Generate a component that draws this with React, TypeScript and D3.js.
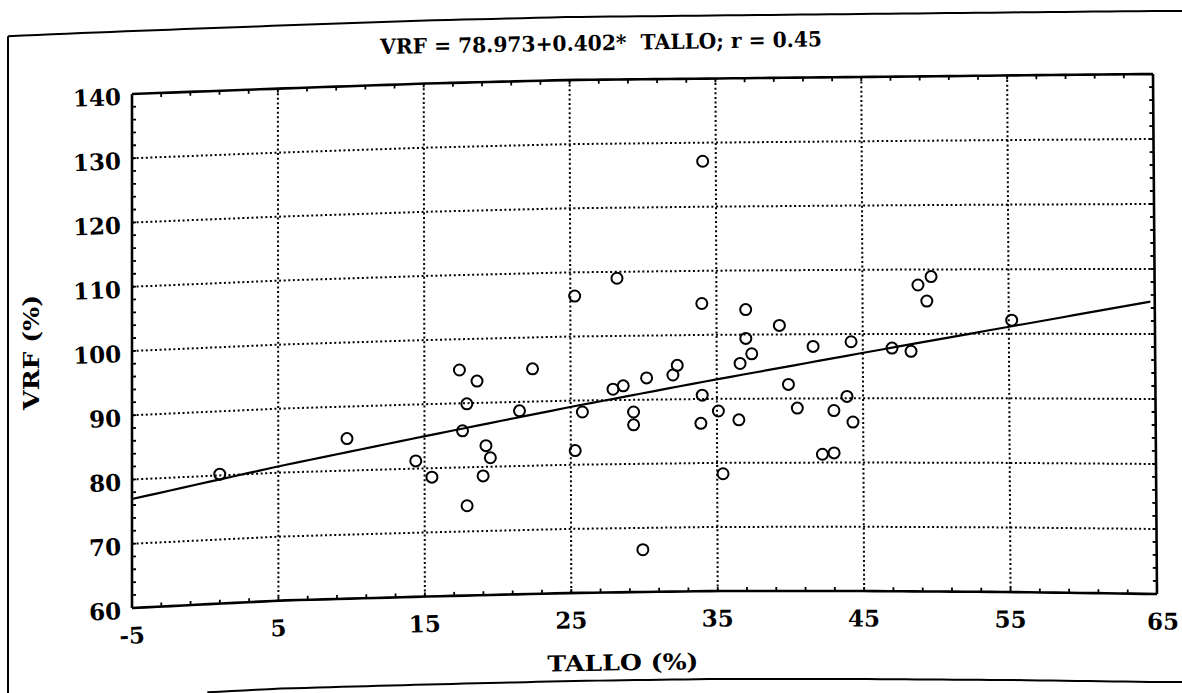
import React from 'react';
import * as d3 from 'd3';

// ---- data ----
const tallo = [1.0, 9.7, 14.4, 15.5, 17.4, 18.6, 17.9, 17.6, 19.2, 19.5, 19.0, 17.9, 21.5, 22.4,
  34.1, 28.2, 25.3, 34.0, 37.0, 39.3, 37.0, 41.6, 44.2, 47.0, 37.4, 36.6, 32.3, 32.0, 30.2, 28.6,
  27.9, 25.8, 25.3, 29.3, 29.3, 34.0, 33.9, 35.1, 36.5, 35.4, 39.9, 40.5, 43.9, 43.0, 44.3, 42.2,
  43.0, 48.8, 49.7, 49.4, 48.3, 55.2, 29.9];
const vrf = [80.2, 85.0, 81.2, 78.6, 95.2, 93.4, 89.9, 85.7, 83.3, 81.4, 78.6, 74.0, 88.6, 95.1,
  127.1, 109.0, 106.3, 104.9, 103.9, 101.4, 99.4, 98.1, 98.8, 97.8, 97.0, 95.5, 95.3, 93.8, 93.4, 92.2,
  91.7, 88.2, 82.2, 88.1, 86.1, 90.6, 86.2, 88.1, 86.7, 78.3, 92.2, 88.5, 90.3, 88.1, 86.3, 81.3,
  81.5, 107.6, 108.9, 105.1, 97.3, 102.1, 66.6];
const xTicks = [-5, 5, 15, 25, 35, 45, 55, 65];
const yTicks = [60, 70, 80, 90, 100, 110, 120, 130, 140];
const intercept = 78.973;
const slope = 0.402;
const fitRange = [-5, 64.7];
const titleText = 'VRF = 78.973+0.402*  TALLO; r = 0.45';
const xLabel = 'TALLO (%)';
const yLabel = 'VRF (%)';

// ---- layout ----
const W = 1182, H = 693;
const PL = 132, PR = 1153, PT = 94, PB = 608;
const x = d3.scaleLinear().domain([-5, 65]).range([PL, PR]);
const y = d3.scaleLinear().domain([60, 140]).range([PB, PT]);

// paper warp of the scanned page (vertical offsets along x)
const warpXs = [0, 132, 282, 427, 570, 714, 859, 1005, 1153, 1182];
const offTop = d3.scaleLinear().domain(warpXs).range([5.5, 0, -5.5, -10.5, -14, -15.5, -17, -18.5, -20, -20]).clamp(true);
const offBot = d3.scaleLinear().domain(warpXs).range([6, 0, -7.5, -11.5, -15, -17, -17, -16, -14, -14]).clamp(true);

function warp(px: number, py: number): [number, number] {
  const t = Math.max(0, Math.min(1, (py - PT) / (PB - PT)));
  const u = Math.max(0, Math.min(1, (px - PL) / (PR - PL)));
  return [px + 4 * u * t, py + offTop(px) * (1 - t) + offBot(px) * t];
}

function warpedPath(x0: number, y0: number, x1: number, y1: number, n = 80): string {
  const pts: [number, number][] = [];
  for (let i = 0; i <= n; i++) {
    const f = i / n;
    pts.push(warp(x0 + (x1 - x0) * f, y0 + (y1 - y0) * f));
  }
  return d3.line()(pts) || '';
}

function angleAt(px: number, py: number, half = 60): number {
  const a = warp(px - half, py);
  const b = warp(px + half, py);
  return (Math.atan2(b[1] - a[1], b[0] - a[0]) * 180) / Math.PI;
}

const FONT = '"DejaVu Serif", "Liberation Serif", serif';

function WText(props: { px: number; py: number; anchor?: string; size: number; children: string; rot?: number; len?: number; half?: number }) {
  const [wx, wy] = warp(props.px, props.py);
  const ang = (props.rot || 0) + (props.rot ? 0 : angleAt(props.px, props.py, props.half || 40));
  return (
    <text
      transform={`translate(${wx},${wy}) rotate(${ang})`}
      textAnchor={props.anchor || 'middle'}
      dominantBaseline="central"
      fontFamily={FONT}
      fontWeight="bold"
      fontSize={props.size}
      fill="#000"
      textLength={props.len}
      lengthAdjust={props.len ? 'spacingAndGlyphs' : undefined}
      style={{ whiteSpace: 'pre' }}
    >
      {props.children}
    </text>
  );
}

export default function App() {
  const xMinor = d3.range(-5, 65.01, 2);
  const yMinor = d3.range(60, 140.01, 2);
  const fitPts: [number, number] = [x(fitRange[0]), x(fitRange[1])];
  return (
    <svg width={W} height={H} style={{ position: 'absolute', left: 0, top: 0, background: '#fff' }}>
      <rect x={0} y={0} width={W} height={H} fill="#fff" />
      {/* outer frame */}
      <path d={warpedPath(8, 31, W, 31)} stroke="#000" strokeWidth={2} fill="none" />
      <path d={warpedPath(8, 31, 8, 720, 10)} stroke="#000" strokeWidth={2} fill="none" />
      <path d={warpedPath(207, 696, W, 696)} stroke="#000" strokeWidth={2} fill="none" />

      {/* title */}
      <WText px={601} py={57} size={21} half={220} len={442}>{titleText}</WText>

      {/* gridlines */}
      {xTicks.slice(1, -1).map((v) => (
        <path key={'gx' + v} d={warpedPath(x(v), PT, x(v), PB, 20)} stroke="#000" strokeWidth={2} strokeDasharray="2 2.6" fill="none" />
      ))}
      {yTicks.slice(1, -1).map((v) => (
        <path key={'gy' + v} d={warpedPath(PL, y(v), PR, y(v))} stroke="#000" strokeWidth={2} strokeDasharray="2 2.6" fill="none" />
      ))}

      {/* minor ticks */}
      {xMinor.map((v) => (
        <g key={'tx' + v}>
          <path d={warpedPath(x(v), PT, x(v), PT + 4, 1)} stroke="#000" strokeWidth={1.8} />
          <path d={warpedPath(x(v), PB, x(v), PB - 4, 1)} stroke="#000" strokeWidth={1.8} />
        </g>
      ))}
      {yMinor.map((v) => (
        <g key={'ty' + v}>
          <path d={warpedPath(PL, y(v), PL + 4, y(v), 1)} stroke="#000" strokeWidth={1.8} />
          <path d={warpedPath(PR, y(v), PR - 4, y(v), 1)} stroke="#000" strokeWidth={1.8} />
        </g>
      ))}

      {/* plot border */}
      <path
        d={
          warpedPath(PL, PT, PR, PT) + warpedPath(PR, PT, PR, PB, 20) + warpedPath(PR, PB, PL, PB) + warpedPath(PL, PB, PL, PT, 20)
        }
        stroke="#000"
        strokeWidth={2.6}
        fill="none"
        strokeLinejoin="miter"
      />

      {/* regression line */}
      <path
        d={warpedPath(fitPts[0], y(intercept + slope * fitRange[0]), fitPts[1], y(intercept + slope * fitRange[1]))}
        stroke="#000"
        strokeWidth={2.2}
        fill="none"
      />

      {/* points */}
      {tallo.map((tv, i) => {
        const [cx, cy] = warp(x(tv), y(vrf[i]));
        return <circle key={'p' + i} cx={cx} cy={cy} r={5.5} fill="none" stroke="#000" strokeWidth={2} />;
      })}

      {/* y tick labels */}
      {yTicks.map((v) => (
        <WText key={'ly' + v} px={121} py={y(v) + 2} anchor="end" size={23}>{String(v)}</WText>
      ))}
      {/* x tick labels */}
      {xTicks.map((v) => (
        <WText key={'lx' + v} px={x(v) + (v === 65 ? 6 : 0)} py={PB + 27} size={23}>{String(v)}</WText>
      ))}

      {/* axis titles */}
      <WText px={621} py={678} size={22} len={151} half={80}>{xLabel}</WText>
      <WText px={31} py={348} size={22} rot={-90} len={115}>{yLabel}</WText>
    </svg>
  );
}
